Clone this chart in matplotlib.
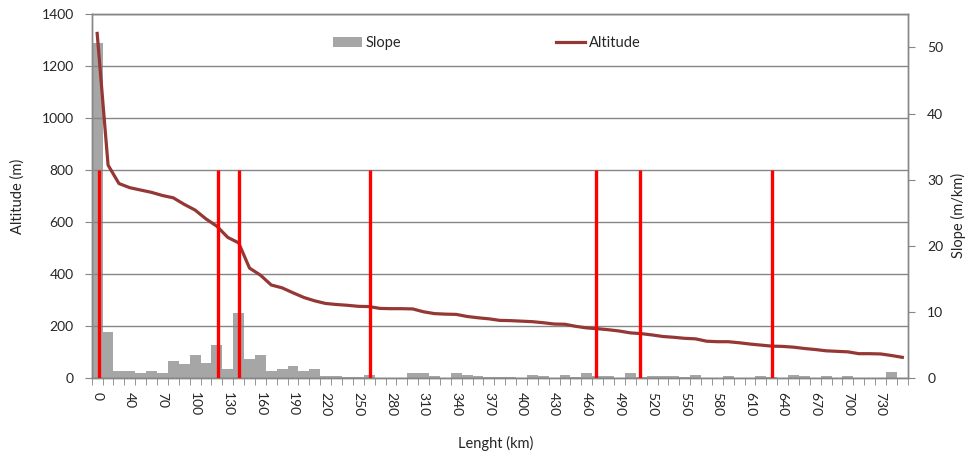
import numpy as np
import matplotlib
matplotlib.use('Agg')
import matplotlib.pyplot as plt
from matplotlib.patches import Patch
from matplotlib.lines import Line2D

plt.rcParams['font.family'] = ['Lato', 'DejaVu Sans']

# categories (km) of the x axis
length_km = [0, 20, 30, 40, 50, 60, 70, 80, 90, 100,
             110, 120, 130, 140, 150, 160, 170, 180, 190, 200,
             210, 220, 230, 240, 250, 260, 270, 280, 290, 300,
             310, 320, 330, 340, 350, 360, 370, 380, 390, 400,
             410, 420, 430, 440, 450, 460, 470, 480, 490, 500,
             510, 520, 530, 540, 550, 560, 570, 580, 590, 600,
             610, 620, 630, 640, 650, 660, 670, 680, 690, 700,
             710, 720, 730, 740, 750]

altitude = [1326, 820, 749, 733, 724, 715, 703, 694, 669, 647,
            613, 585, 542, 521, 424, 397, 359, 348, 329, 311,
            298, 288, 284, 281, 277, 276, 269, 268, 268, 267,
            256, 249, 247, 246, 238, 233, 229, 223, 222, 220,
            218, 214, 209, 208, 200, 194, 191, 187, 182, 175,
            172, 167, 161, 158, 154, 152, 143, 141, 141, 137,
            132, 128, 124, 123, 120, 115, 111, 106, 104, 102,
            95, 95, 94, 88, 81]

slope = [50.6, 7.0, 1.06, 1.06, 0.86, 1.06, 0.76, 2.6, 2.1, 3.5,
         2.4, 5.0, 1.4, 9.9, 2.9, 3.5, 1.06, 1.4, 1.8, 1.06,
         1.4, 0.4, 0.4, 0.2, 0.2, 0.55, 0, 0, 0, 0.75,
         0.75, 0.4, 0, 0.75, 0.55, 0.4, 0.2, 0.2, 0.2, 0,
         0.55, 0.4, 0, 0.55, 0.2, 0.75, 0.4, 0.4, 0, 0.75,
         0.2, 0.4, 0.4, 0.4, 0.2, 0.55, 0, 0, 0.4, 0,
         0, 0.4, 0.2, 0, 0.55, 0.4, 0, 0.4, 0, 0.4,
         0, 0, 0, 1.0, 0]

# red markers (km) and their height (m)
marker_km = [3.4, 121.1, 140.6, 260.8, 468.5, 509.2, 630.6]
marker_height = 800

gray = '#868686'
txt = '#262626'

n = len(length_km)
pos = np.arange(n)
marker_pos = np.interp(marker_km, length_km, pos)

fig = plt.figure(figsize=(9.78, 4.57), dpi=100)
ax = fig.add_axes([0.0938, 0.172, 0.8344, 0.797])
ax2 = ax.twinx()
ax.set_zorder(ax2.get_zorder() + 1)
ax.patch.set_visible(False)

# slope bars (secondary axis)
ax2.bar(pos, slope, width=1.0, color='#A6A6A6', linewidth=0)
ax2.set_ylim(0, 55)
ax2.set_yticks([0, 10, 20, 30, 40, 50])

# altitude line + markers (primary axis)
ax.plot(pos, altitude, color='#953735', lw=2.3, solid_joinstyle='round')
ax.vlines(marker_pos, 0, marker_height, color='#FF0000', lw=2.4, zorder=4)
ax.set_ylim(0, 1400)
ax.set_yticks(range(0, 1401, 200))
ax.set_xlim(-0.5, n - 0.5)
ax.yaxis.grid(True, color=gray, lw=1)
ax.set_axisbelow(True)

# x axis: ticks at category borders, labels every 3 categories
ax.set_xticks(pos[::3], [str(length_km[i]) for i in pos[::3]], rotation=270)
ax.set_xticks(np.arange(n + 1) - 0.5, minor=True)
ax.tick_params(axis='x', which='major', length=0, pad=10, labelsize=10, labelcolor=txt)
ax.tick_params(axis='x', which='minor', length=5, color=gray, direction='out')
ax.tick_params(axis='y', length=5, color=gray, pad=8, labelsize=10, labelcolor=txt)
ax2.tick_params(axis='y', length=5, color=gray, pad=9, labelsize=10, labelcolor=txt)

for a in (ax, ax2):
    for s in a.spines.values():
        s.set_color(gray)
        s.set_linewidth(1)

fig.text(18 / 978, 1 - 196 / 457, 'Altitude (m)', rotation=90, ha='center', va='center',
         fontsize=10.5, color=txt)
fig.text(958 / 978, 1 - 215 / 457, 'Slope (m/km)', rotation=90, ha='center', va='center',
         fontsize=10.5, color=txt)
fig.text(496 / 978, 1 - 443 / 457, 'Lenght (km)', ha='center', va='center',
         fontsize=10.5, color=txt)

handles = [Patch(facecolor='#A6A6A6', edgecolor='none', label='Slope'),
           Line2D([], [], color='#953735', lw=2.3, label='Altitude')]
fig.legend(handles=handles, loc='center left', ncol=2, frameon=False,
           bbox_to_anchor=(333 / 978, 1 - 43 / 457), bbox_transform=fig.transFigure,
           borderpad=0, borderaxespad=0, handlelength=2.0, handletextpad=0.25,
           columnspacing=10.6, fontsize=10.5, labelcolor=txt)

fig.savefig('out.png', dpi=100, facecolor='white')
